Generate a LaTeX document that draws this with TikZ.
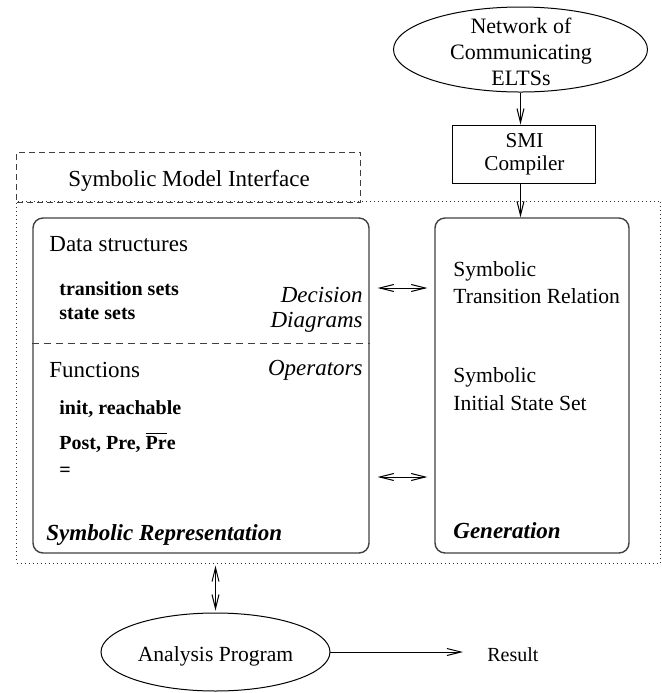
\documentclass[tikz,border=0pt]{standalone}
\usepackage{fontspec}
\setmainfont{Liberation Serif}
\usetikzlibrary{arrows.meta, positioning, shapes.geometric}
\tikzset{
  oval/.style={draw, ellipse, line width=0.5pt, inner sep=0pt},
  compilerbox/.style={draw, rectangle, line width=0.5pt, inner sep=0pt,
    align=center, font=\fontsize{10.6}{11.5}\selectfont},
  layerbox/.style={draw=black!75, rectangle, rounded corners=5pt, line width=0.7pt, inner sep=0pt},
  ifacebox/.style={draw=black!75, dash pattern=on 3pt off 2pt, line width=0.5pt, inner sep=0pt},
  framebox/.style={draw=black!80, dash pattern=on 0.5pt off 1.5pt, line width=0.5pt, inner sep=0pt},
  sepline/.style={draw=black!75, dash pattern=on 3.5pt off 2.5pt, line width=0.5pt},
  txt/.style={font=\fontsize{11.5}{13}\selectfont, inner sep=0pt},
  gtxt/.style={font=\fontsize{10.8}{13}\selectfont, inner sep=0pt},
  stxt/.style={font=\fontsize{10}{12}\selectfont, inner sep=0pt},
  itxt/.style={font=\fontsize{11.5}{13}\selectfont\itshape, inner sep=0pt},
  btxt/.style={font=\fontsize{10}{12}\selectfont\bfseries, inner sep=0pt},
  bitxt/.style={font=\fontsize{11.5}{13}\selectfont\bfseries\itshape, inner sep=0pt},
  flow/.style={-{Straight Barb[length=7pt, width=3.5pt]}, line width=0.5pt},
  duplex/.style={{Straight Barb[length=7pt, width=3.5pt]}-{Straight Barb[length=7pt, width=3.5pt]},
    line width=0.5pt}
}

\begin{document}
\begin{tikzpicture}[x=0.5pt, y=-0.5pt]
  \useasboundingbox (0,0) rectangle (662,693);

  % ---- Input network and compiler -------------------------------------------
  \node[oval, minimum width=127pt, minimum height=42.5pt] (net) at (520.5,49.5) {};
  \node[txt, font=\fontsize{11}{13}\selectfont, align=center] (netlbl) at (521,52) {Network of\\Communicating\\ELTSs};
  \node[compilerbox, minimum width=71.5pt, minimum height=29pt] (smi) at (524.5,154) {SMI\\Compiler};

  % ---- Interface frame -----------------------------------------------------
  \node[ifacebox, minimum width=172pt, minimum height=25pt] (iface) at (189,177) {};
  \node[txt, anchor=base] (ifacelbl) at (189,186) {Symbolic Model Interface};
  \node[framebox, minimum width=322pt, minimum height=181pt] (frame) at (339,382) {};

  % ---- Symbolic representation ---------------------------------------------
  \node[layerbox, minimum width=168pt, minimum height=167.5pt] (symrep) at (201,385.5) {};
  \node[txt, anchor=base west] (datastr) at (49,251) {Data structures};
  \node[btxt, anchor=base west] (transets) at (59,295) {transition sets};
  \node[btxt, anchor=base west] (statesets) at (59,319) {state sets};
  \node[itxt, anchor=base east] (decision) at (363,302) {Decision};
  \node[itxt, anchor=base east] (diagrams) at (363,327) {Diagrams};
  \draw[sepline] (symrep.west |- 0,343) -- (symrep.east |- 0,343);
  \node[txt, anchor=base west] (functions) at (49,377) {Functions};
  \node[itxt, anchor=base east] (operators) at (363,375) {Operators};
  \node[btxt, anchor=base west] (initreach) at (59,414) {init, reachable};
  \node[btxt, anchor=base west] (postpre) at (59,449) {Post, Pre, $\overline{\mbox{Pr}}$e};
  \node[btxt, anchor=base west] (equal) at (59,476) {=};
  \node[bitxt, anchor=base west] (symreplbl) at (46,540) {Symbolic Representation};

  % ---- Generation ----------------------------------------------------------
  \node[layerbox, minimum width=97pt, minimum height=167.5pt] (gen) at (532,385.5) {};
  \node[gtxt, anchor=base west] (transrel1) at (453,276) {Symbolic};
  \node[gtxt, anchor=base west] (transrel2) at (453,303) {Transition Relation};
  \node[gtxt, anchor=base west] (initset1) at (453,382) {Symbolic};
  \node[gtxt, anchor=base west] (initset2) at (453,410) {Initial State Set};
  \node[bitxt, anchor=base west] (genlbl) at (453,538) {Generation};

  % ---- Analysis ------------------------------------------------------------
  \node[oval, gtxt, text height=9pt, text depth=0pt,
    minimum width=114.5pt, minimum height=39pt] (analysis) at (215.5,652) {Analysis Program};
  \node[stxt, anchor=base west] (result) at (487,661) {Result};

  % ---- Connectors ----------------------------------------------------------
  \draw[flow] (net.south) -- (net.south |- smi.north);
  \draw[flow] (net.south |- smi.south) -- (net.south |- gen.north);
  \draw[duplex, shorten <=4pt, shorten >=3.5pt] (symrep.east |- 0,288) -- (gen.west |- 0,288);
  \draw[duplex, shorten <=4pt, shorten >=3.5pt] (symrep.east |- 0,477) -- (gen.west |- 0,477);
  \draw[duplex, shorten <=1pt, shorten >=1pt] (analysis.north |- frame.south) -- (analysis.north);
  \draw[flow, shorten >=12pt] (analysis.east) -- (analysis.east -| result.west);

\end{tikzpicture}
\end{document}
